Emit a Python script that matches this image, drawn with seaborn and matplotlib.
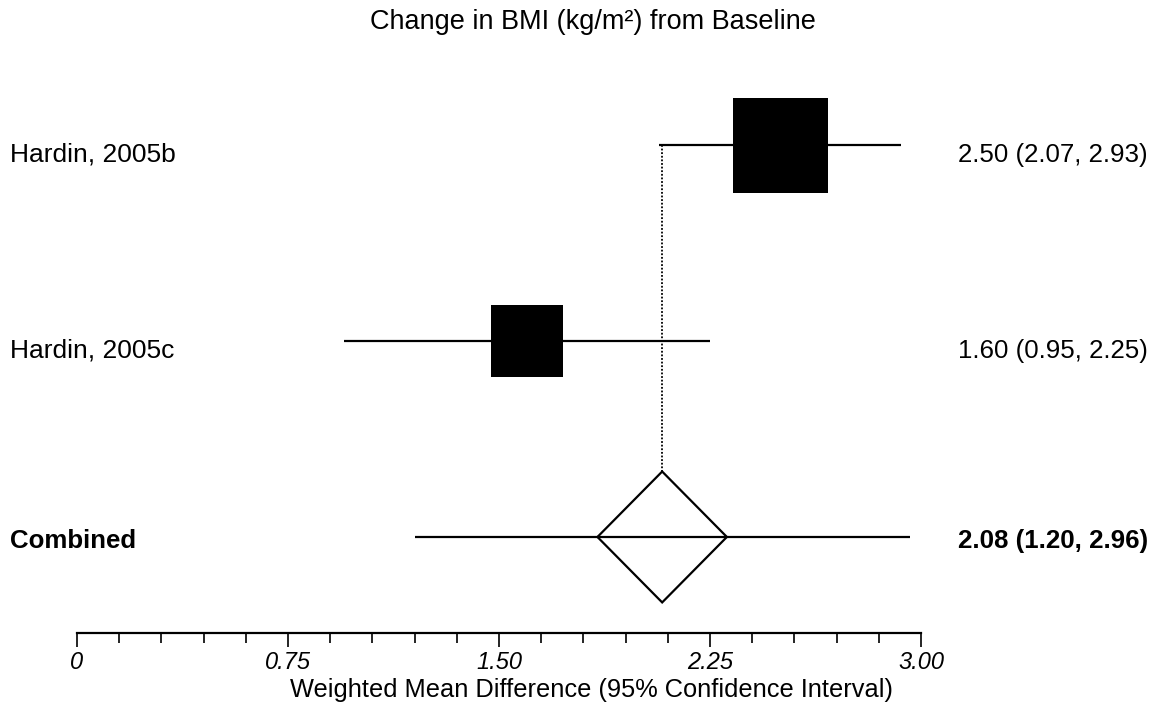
import matplotlib
matplotlib.use("Agg")
import matplotlib.pyplot as plt
import matplotlib.transforms as mtransforms
import seaborn as sns
import numpy as np

sns.set_theme(style="white")
plt.rcParams['font.family'] = ['Liberation Sans', 'DejaVu Sans']
plt.rcParams['text.color'] = 'black'
plt.rcParams['axes.labelcolor'] = 'black'
plt.rcParams['xtick.color'] = 'black'

studies = ["Hardin, 2005b", "Hardin, 2005c"]
estimates = [2.50, 1.60]
ci_low = [2.07, 0.95]
ci_high = [2.93, 2.25]
weights = [63.5, 36.5]
study_text = ["2.50 (2.07, 2.93)", "1.60 (0.95, 2.25)"]

combined_label = "Combined"
combined_est = 2.08
combined_low = 1.20
combined_high = 2.96
diamond_low = 1.85
diamond_high = 2.31
combined_text = "2.08 (1.20, 2.96)"

major_ticks = [0, 0.75, 1.50, 2.25, 3.00]
major_labels = ["0", "0.75", "1.50", "2.25", "3.00"]
minor_step = 0.15

W, H = 1154, 707
fig = plt.figure(figsize=(W / 100, H / 100), dpi=100)
ax_left, ax_right, ax_bottom_px = 77, 921, 633
ax = fig.add_axes([ax_left / W, (H - ax_bottom_px) / H, (ax_right - ax_left) / W, ax_bottom_px / H])

rows = list(range(len(studies)))
comb_row = len(studies)

# CI lines
ax.hlines(rows, ci_low, ci_high, color="black", lw=1.6)
ax.hlines([comb_row], [combined_low], [combined_high], color="black", lw=1.6)

# squares sized by weight
sns.scatterplot(x=estimates, y=rows, size=weights, sizes=(2687, 4680), marker="s",
                color="black", edgecolor="black", linewidth=0, legend=False, ax=ax, zorder=3)

# dotted reference line at the combined estimate
dh = 0.334
ax.vlines([combined_est], [0], [comb_row - dh], color="black", lw=1.3, linestyles=(0, (1, 1)))

# diamond
ax.fill([diamond_low, combined_est, diamond_high, combined_est, diamond_low],
        [comb_row, comb_row - dh, comb_row, comb_row + dh, comb_row],
        facecolor="white", edgecolor="black", lw=1.6, zorder=3)
ax.hlines([comb_row], [diamond_low], [diamond_high], color="black", lw=1.6, zorder=4)

ax.set_xlim(0, 3.0)
ax.set_ylim(2.49, -0.74)

for s in ["top", "right", "left"]:
    ax.spines[s].set_visible(False)
ax.spines["bottom"].set_linewidth(1.6)
ax.spines["bottom"].set_color("black")
ax.set_yticks([])
ax.set_xticks(major_ticks)
ax.set_xticklabels(major_labels, fontstyle="italic", fontsize=17)
ax.set_xticks(np.arange(0, 3.0001, minor_step), minor=True)
ax.tick_params(axis="x", which="major", direction="out", length=10, width=1.2, color="black", bottom=True, pad=3)
ax.tick_params(axis="x", which="minor", direction="out", length=7, width=1.2, color="black", bottom=True)
ax.set_xlabel("Weighted Mean Difference (95% Confidence Interval)", fontsize=18.3, va="center")
ax.xaxis.set_label_coords((592 - ax_left) / (ax_right - ax_left), -(690 - ax_bottom_px) / ax_bottom_px)

trans = mtransforms.blended_transform_factory(fig.transFigure, ax.transData)
for r, name, txt in zip(rows, studies, study_text):
    ax.text(10 / W, r + 0.05, name, transform=trans, ha="left", va="center", fontsize=19)
    ax.text(1148 / W, r + 0.05, txt, transform=trans, ha="right", va="center", fontsize=18.6)
ax.text(10 / W, comb_row + 0.02, combined_label, transform=trans, ha="left", va="center",
        fontsize=18.6, fontweight="bold")
ax.text(1148 / W, comb_row + 0.02, combined_text, transform=trans, ha="right", va="center",
        fontsize=18.6, fontweight="bold")

fig.text(593 / W, 1 - 22 / H, "Change in BMI (kg/m²) from Baseline", ha="center", va="center", fontsize=19.5)

fig.savefig("out.png", dpi=100)
